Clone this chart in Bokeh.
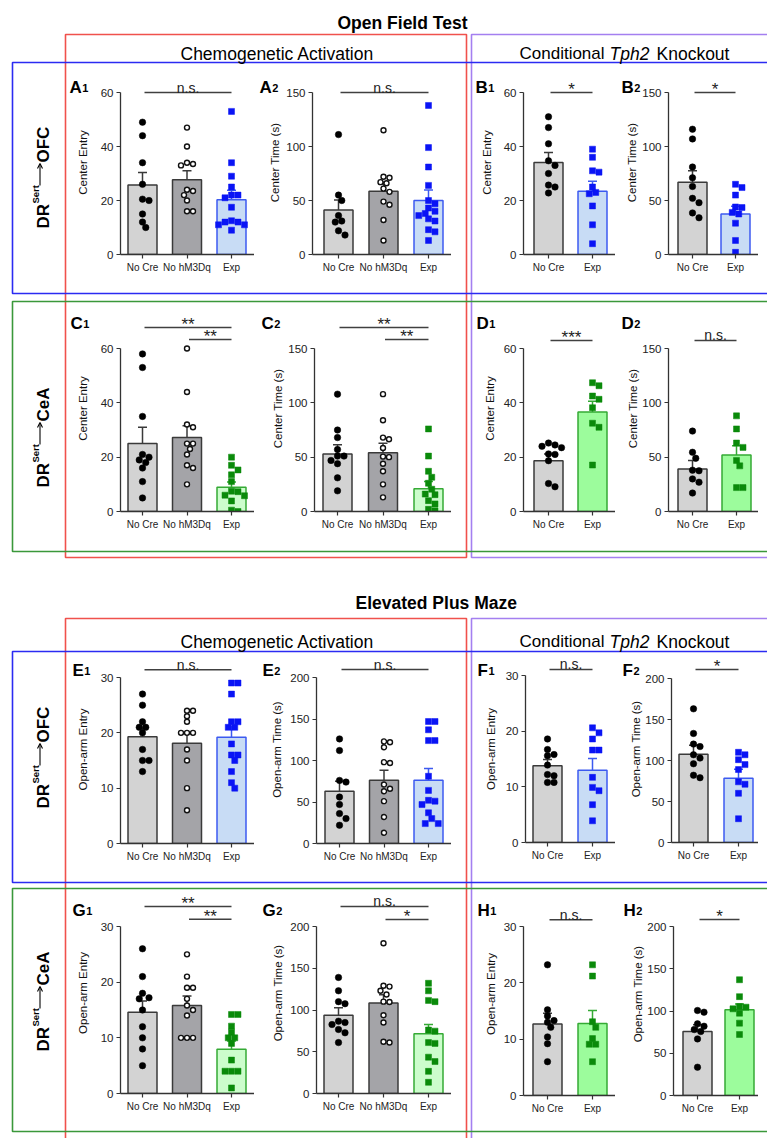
import math
from bokeh.plotting import figure
from bokeh.models import Range1d, FixedTicker, GridBox, Arrow, OpenHead
from bokeh.embed import file_html
from bokeh.resources import INLINE
from bokeh.core.properties import value

FONT = "Liberation Sans"

# ------------------------------------------------------------------ data
GROUPS_3 = ["No Cre", "No hM3Dq", "Exp"]
GROUPS_2 = ["No Cre", "Exp"]

Y_OF_ENTRY = "Center Entry"
Y_OF_TIME = "Center Time (s)"
Y_EPM_ENTRY = "Open-arm Entry"
Y_EPM_TIME = "Open-arm Time (s)"

# Open Field Test
A1_nocre = [49, 44, 34, 26, 20.5, 20, 15, 12, 10]
A1_hm3dq = [47, 40, 34, 33.5, 33, 24, 23.5, 22, 20, 16, 16]
A1_exp = [53, 34, 29, 25, 22, 22, 21, 17.5, 12.5, 12, 12, 11, 11, 9]
A1_mean = [25.7, 27.7, 20.3]
A1_sem = [4.7, 3.3, 3.5]

A2_nocre = [111, 55, 50, 36, 31, 30, 22, 18]
A2_hm3dq = [115, 72, 71, 67, 66, 61, 58, 49, 46, 32, 13]
A2_exp = [138, 99, 81, 64, 50, 47, 43, 40, 38, 36, 33, 31, 23, 21, 13]
A2_mean = [41.3, 58.5, 49.9]
A2_sem = [9.2, 8.3, 9.8]

B1_nocre = [51, 47, 41, 34.7, 33, 30, 25.7, 25, 22.8]
B1_exp = [39, 36, 31, 30.5, 25, 23, 22.5, 18, 11, 4]
B1_mean = [34.1, 23.4]
B1_sem = [3.7, 3.7]

B2_nocre = [116, 107, 81, 71, 63, 52, 48, 38.5, 34]
B2_exp = [65, 62, 55, 44, 43.5, 39, 37.5, 29, 13, 2]
B2_mean = [66.8, 37.6]
B2_sem = [10.8, 7.0]

C1_nocre = [58, 53, 35, 21, 20, 19, 18, 16, 11, 5]
C1_hm3dq = [60, 44, 32, 31, 25, 25, 23, 21, 17, 16, 10]
C1_exp = [20, 17, 15.3, 13.5, 11, 7.5, 7.3, 6, 5.8, 3.9, 0.5, 0]
C1_mean = [25.0, 27.2, 8.9]
C1_sem = [6.0, 4.4, 2.0]

C2_nocre = [108, 75, 68, 57, 51, 51, 47, 44, 31, 19]
C2_hm3dq = [108, 84, 68, 66.5, 58.5, 50.5, 50, 44, 37, 25, 13]
C2_exp = [76, 51, 37, 31.5, 26, 20.5, 16, 15.5, 10, 7, 2, 0.6]
C2_mean = [53.0, 54.0, 21.0]
C2_sem = [8.5, 8.8, 6.5]

D1_nocre = [25.2, 24.5, 24, 23.5, 21.2, 21, 18.7, 10.3, 9.1]
D1_exp = [47.4, 46.3, 42.5, 41.3, 38.2, 32.5, 31, 17.1]
D1_mean = [18.7, 36.6]
D1_sem = [2.5, 4.0]

D2_nocre = [74, 54.5, 49, 38, 37.5, 30, 27, 17]
D2_exp = [88, 76, 63, 59, 47, 42, 22, 22]
D2_mean = [39.0, 52.0]
D2_sem = [8.0, 8.5]

# Elevated Plus Maze
E1_nocre = [27, 25, 22, 21, 21, 20, 17, 15, 15, 13]
E1_hm3dq = [24, 24, 23, 22, 20, 20, 20, 17, 15, 10, 6]
E1_exp = [29, 29, 27, 22, 22, 21, 21, 18, 16, 16, 15, 13, 11, 10]
E1_mean = [19.3, 18.1, 19.2]
E1_sem = [1.5, 1.8, 1.9]

E2_nocre = [126, 112, 76, 74, 56, 47, 36, 30, 22]
E2_hm3dq = [122, 123, 116, 98, 97, 71, 66, 63, 51, 32, 13]
E2_exp = [147, 147, 137, 124, 124, 81, 64, 52, 51, 47, 37, 30, 24, 24]
E2_mean = [62.9, 76.3, 76.3]
E2_sem = [12.0, 12.0, 14.0]

F1_nocre = [18.6, 16.7, 15.8, 15.6, 13.9, 12.2, 12, 10.8, 10.8]
F1_exp = [20.6, 19.7, 18.6, 16.6, 16.6, 11.7, 9.9, 9.3, 6.8, 3.9]
F1_mean = [13.8, 13.0]
F1_sem = [1.1, 2.1]

F2_nocre = [163, 133, 120, 117, 107, 103, 96, 82, 79]
F2_exp = [110, 107, 101, 95, 89, 74, 71, 60, 29]
F2_mean = [107.5, 78.3]
F2_sem = [11.0, 11.0]

G1_nocre = [26, 21, 18, 17.2, 17, 15, 12, 10, 8, 5]
G1_hm3dq = [25, 21, 19, 19, 17, 15.8, 15, 14, 10, 10, 10]
G1_exp = [14.2, 14.2, 12.1, 11, 10, 10, 9, 6, 4, 4, 4, 1]
G1_mean = [14.6, 15.8, 7.95]
G1_sem = [2.0, 1.7, 1.5]

G2_nocre = [139, 123, 110, 107.5, 86.6, 85, 82.6, 76.7, 72.7, 61]
G2_hm3dq = [180, 128, 129, 123, 118.6, 109.5, 110, 93.7, 85, 62, 61]
G2_exp = [132, 123, 111.5, 110, 76, 74.7, 60, 61, 43.5, 38.3, 26.5, 13.4]
G2_mean = [93.7, 108.3, 71.5]
G2_sem = [9.0, 10.0, 11.0]

H1_nocre = [23.2, 15.2, 14.1, 13.3, 13, 12.1, 10.4, 9.2, 6]
H1_exp = [23.2, 21.2, 13.1, 12.1, 10.1, 9.1, 9.1, 6]
H1_mean = [12.7, 12.8]
H1_sem = [1.9, 2.3]

H2_nocre = [100.6, 98.6, 84.8, 82, 78, 75.7, 67, 33.5]
H2_exp = [137, 117, 105.3, 104.5, 102.6, 97.4, 85.6, 72.2]
H2_mean = [75.7, 101.4]
H2_sem = [8.0, 7.0]

# significance annotations: (group i, group j, height in data units, label)
A1_sig = [(0, 2, 60, "n.s.")]
A2_sig = [(0, 2, 150, "n.s.")]
B1_sig = [(0, 1, 60, "*")]
B2_sig = [(0, 1, 150, "*")]
C1_sig = [(0, 2, 67.7, "**"), (1, 2, 63.3, "**")]
C2_sig = [(0, 2, 169.3, "**"), (1, 2, 158.3, "**")]
D1_sig = [(0, 1, 62.9, "***")]
D2_sig = [(0, 1, 157.4, "n.s.")]
E1_sig = [(0, 2, 31.4, "n.s.")]
E2_sig = [(0, 2, 209.6, "n.s.")]
F1_sig = [(0, 1, 31.1, "n.s.")]
F2_sig = [(0, 1, 211, "*")]
G1_sig = [(0, 2, 33.6, "**"), (1, 2, 31.3, "**")]
G2_sig = [(0, 2, 224, "n.s."), (1, 2, 208.4, "*")]
H1_sig = [(0, 1, 31.2, "n.s.")]
H2_sig = [(0, 1, 208.3, "*")]

PANELS = [
    ("A1", GROUPS_3, [A1_nocre, A1_hm3dq, A1_exp], A1_mean, A1_sem, "blue", Y_OF_ENTRY, 60, 20, A1_sig),
    ("A2", GROUPS_3, [A2_nocre, A2_hm3dq, A2_exp], A2_mean, A2_sem, "blue", Y_OF_TIME, 150, 50, A2_sig),
    ("B1", GROUPS_2, [B1_nocre, B1_exp], B1_mean, B1_sem, "blue", Y_OF_ENTRY, 60, 20, B1_sig),
    ("B2", GROUPS_2, [B2_nocre, B2_exp], B2_mean, B2_sem, "blue", Y_OF_TIME, 150, 50, B2_sig),
    ("C1", GROUPS_3, [C1_nocre, C1_hm3dq, C1_exp], C1_mean, C1_sem, "lgreen", Y_OF_ENTRY, 60, 20, C1_sig),
    ("C2", GROUPS_3, [C2_nocre, C2_hm3dq, C2_exp], C2_mean, C2_sem, "lgreen", Y_OF_TIME, 150, 50, C2_sig),
    ("D1", GROUPS_2, [D1_nocre, D1_exp], D1_mean, D1_sem, "green", Y_OF_ENTRY, 60, 20, D1_sig),
    ("D2", GROUPS_2, [D2_nocre, D2_exp], D2_mean, D2_sem, "green", Y_OF_TIME, 150, 50, D2_sig),
    ("E1", GROUPS_3, [E1_nocre, E1_hm3dq, E1_exp], E1_mean, E1_sem, "blue", Y_EPM_ENTRY, 30, 10, E1_sig),
    ("E2", GROUPS_3, [E2_nocre, E2_hm3dq, E2_exp], E2_mean, E2_sem, "blue", Y_EPM_TIME, 200, 50, E2_sig),
    ("F1", GROUPS_2, [F1_nocre, F1_exp], F1_mean, F1_sem, "blue", Y_EPM_ENTRY, 30, 10, F1_sig),
    ("F2", GROUPS_2, [F2_nocre, F2_exp], F2_mean, F2_sem, "blue", Y_EPM_TIME, 200, 50, F2_sig),
    ("G1", GROUPS_3, [G1_nocre, G1_hm3dq, G1_exp], G1_mean, G1_sem, "lgreen", Y_EPM_ENTRY, 30, 10, G1_sig),
    ("G2", GROUPS_3, [G2_nocre, G2_hm3dq, G2_exp], G2_mean, G2_sem, "lgreen", Y_EPM_TIME, 200, 50, G2_sig),
    ("H1", GROUPS_2, [H1_nocre, H1_exp], H1_mean, H1_sem, "green", Y_EPM_ENTRY, 30, 10, H1_sig),
    ("H2", GROUPS_2, [H2_nocre, H2_exp], H2_mean, H2_sem, "green", Y_EPM_TIME, 200, 50, H2_sig),
]

# ------------------------------------------------------------ layout (page px)
# axis x, first category centre, category spacing, y of 0, y of top tick, frame top
GEOM = {
    "A1": (120, 142, 44.5, 254, 92, 70),
    "A2": (312, 338, 45.0, 254, 92, 70),
    "B1": (523, 548, 44.0, 254, 92, 70),
    "B2": (668, 692, 43.0, 254, 92, 70),
    "C1": (120, 142, 44.5, 511, 348, 305),
    "C2": (314, 337, 45.5, 511, 348, 305),
    "D1": (523, 548, 44.0, 511, 348, 305),
    "D2": (668, 692, 44.0, 511, 348, 305),
    "E1": (120, 142, 44.5, 843, 677, 655),
    "E2": (316, 339, 44.5, 843, 677, 655),
    "F1": (525, 547, 45.0, 842, 675, 655),
    "F2": (671, 693, 45.0, 842, 678, 655),
    "G1": (120, 142, 44.5, 1093, 926, 892),
    "G2": (316, 338, 45.0, 1093, 926, 892),
    "H1": (523, 547, 45.0, 1095, 926, 892),
    "H2": (673, 697, 42.0, 1095, 926, 892),
}
YLAB_CX = {"A1": 83, "A2": 275, "B1": 487, "B2": 632, "C1": 83, "C2": 278, "D1": 490, "D2": 635,
           "E1": 83, "E2": 277, "F1": 491, "F2": 636, "G1": 83, "G2": 278, "H1": 491, "H2": 640}

OUT = "#3a3a3a"
GROUP_FILL = {"No Cre": "#d3d3d3", "No hM3Dq": "#a4a4a8"}
EXP_STYLE = {
    "blue": ("#c8dcf5", "#3c5af0", "#0a14f5"),
    "lgreen": ("#ccfdcc", "#35aa35", "#0a8a0a"),
    "green": ("#9cfc9c", "#35aa35", "#0a8a0a"),
}


def swarm(vals, ppu, sp, d):
    placed = []
    offs = [0.0] * len(vals)
    order = sorted(range(len(vals)), key=lambda i: -vals[i])
    cand = [0.0]
    for k in range(1, 10):
        cand += [k * d / 2.0, -k * d / 2.0]
    for i in order:
        y = vals[i] * ppu
        chosen = cand[-1]
        for c in cand:
            if all((c - px) ** 2 + (y - py) ** 2 >= (d * 0.92) ** 2 for px, py in placed):
                chosen = c
                break
        placed.append((chosen, y))
        offs[i] = chosen / sp
    return offs


LB = 56
BB = 30


def make_panel(name, groups, dots, means, sems, exp, ylabel, ymax, ystep, sigs):
    axis_x, c0, sp, y0, yt, ft = GEOM[name]
    n = len(groups)
    c_last = c0 + (n - 1) * sp
    right = min(c_last + 23, 758)
    frame_w = int(round(right - axis_x))
    frame_h = int(round(y0 - ft))
    ppu = (y0 - yt) / ymax
    x_start = -(c0 - axis_x) / sp
    x_end = x_start + frame_w / sp
    y_end = frame_h / ppu

    p = figure(width=LB + frame_w, height=frame_h + BB,
               x_range=Range1d(x_start, x_end), y_range=Range1d(0, y_end),
               min_border_left=LB, min_border_right=0, min_border_top=0, min_border_bottom=BB,
               toolbar_location=None, output_backend="svg", title_location=None)
    p.margin = (int(round(ft)), 0, 0, int(round(axis_x - LB)))
    p.background_fill_color = None
    p.border_fill_color = None
    p.outline_line_color = None
    p.grid.visible = False

    fill_e, line_e, mark_e = EXP_STYLE[exp]
    xs = list(range(n))
    fills = [GROUP_FILL.get(g, fill_e) for g in groups]
    lines = [OUT if g != "Exp" else line_e for g in groups]
    bw = 29.0 / sp
    p.vbar(x=xs, top=means, bottom=0, width=bw, fill_color=fills, line_color=lines, line_width=1.5)

    cap = 4.5 / sp
    tops = [m + s for m, s in zip(means, sems)]
    p.segment(x0=xs, y0=means, x1=xs, y1=tops, line_color=lines, line_width=1.5)
    p.segment(x0=[x - cap for x in xs], y0=tops, x1=[x + cap for x in xs], y1=tops,
              line_color=lines, line_width=1.5)

    for gi, (g, vals) in enumerate(zip(groups, dots)):
        if g == "No Cre":
            offs = swarm(vals, ppu, sp, 6.5)
            p.scatter(x=[gi + o for o in offs], y=vals, marker="circle", size=6.5,
                      fill_color="#000000", line_color="#000000", line_width=0.5)
        elif g == "No hM3Dq":
            offs = swarm(vals, ppu, sp, 6.0)
            p.scatter(x=[gi + o for o in offs], y=vals, marker="circle", size=5,
                      fill_color="#ffffff", line_color="#111111", line_width=1.4)
        else:
            offs = swarm(vals, ppu, sp, 6.5)
            p.scatter(x=[gi + o for o in offs], y=vals, marker="square", size=6,
                      fill_color=mark_e, line_color=mark_e, line_width=0.5)

    for (i, j, h, lab) in sigs:
        p.segment(x0=[i + 2.0 / sp], y0=[h], x1=[j], y1=[h], line_color="#404040", line_width=1.5)
        xc = (i + 2.0 / sp + j) / 2.0
        if lab.startswith("n"):
            p.text(x=[xc], y=[h + 5.0 / ppu], text=[lab], text_align="center",
                   text_baseline="alphabetic", text_font=value(FONT), text_font_size="14px",
                   text_color="#222222")
        else:
            p.text(x=[xc], y=[h + 3.0 / ppu], text=[lab], text_align="center",
                   text_baseline="middle", text_font=value(FONT), text_font_size="17px",
                   text_color="#222222")

    yticks = list(range(0, ymax + 1, ystep))
    ya = p.yaxis[0]
    ya.ticker = FixedTicker(ticks=yticks)
    ya.bounds = (0, ymax)
    ya.minor_tick_line_color = None
    ya.major_tick_out = 4
    ya.major_tick_in = 0
    ya.major_label_standoff = 3
    ya.axis_line_color = "#333333"
    ya.axis_line_width = 1.3
    ya.major_tick_line_color = "#333333"
    ya.major_tick_line_width = 1.2
    ya.major_label_text_font = FONT
    ya.major_label_text_font_size = "11.5px"
    ya.major_label_text_color = "#222222"
    ya.axis_label = ylabel
    ya.axis_label_text_font = FONT
    ya.axis_label_text_font_size = "11.5px"
    ya.axis_label_text_font_style = "normal"
    ya.axis_label_text_color = "#111111"
    tickw = len(str(ymax)) * 0.556 * 11.5
    standoff = (axis_x - 7 - tickw) - (YLAB_CX[name] + 6.5)
    ya.axis_label_standoff = max(0, int(round(standoff)) - 2)

    xa = p.xaxis[0]
    xa.ticker = FixedTicker(ticks=xs)
    xa.major_label_overrides = {i: g for i, g in enumerate(groups)}
    xa.minor_tick_line_color = None
    xa.major_tick_out = 4
    xa.major_tick_in = 0
    xa.major_label_standoff = 3
    xa.axis_line_color = "#333333"
    xa.axis_line_width = 1.3
    xa.major_tick_line_color = "#333333"
    xa.major_tick_line_width = 1.2
    xa.major_label_text_font = FONT
    xa.major_label_text_font_size = "10px"
    xa.major_label_text_color = "#222222"
    return p


# ------------------------------------------------------------ background
W, H = 767, 1138
bg = figure(width=W, height=H, x_range=Range1d(0, W), y_range=Range1d(0, H),
            toolbar_location=None, output_backend="svg", min_border=0,
            x_axis_type=None, y_axis_type=None, title_location=None)
bg.grid.visible = False
bg.outline_line_color = None
bg.background_fill_color = None
bg.border_fill_color = None


def Y(v):
    return H - v


def txt(x, yimg, s, size, style="normal", align="left", angle=0.0):
    bg.text(x=[x], y=[Y(yimg)], text=[s], text_font=value(FONT), text_font_size=f"{size}px",
            text_font_style=style, text_align=align, text_baseline="alphabetic",
            angle=angle, text_color="#000000")


BOX_RED, BOX_PURPLE, BOX_BLUE, BOX_GREEN = "#f0514c", "#a47ff0", "#2b2bf2", "#3a983a"
BOXES = [
    (65, 34, 466, 557, BOX_RED), (471, 34, 800, 557, BOX_PURPLE),
    (65, 618, 466, 1170, BOX_RED), (471, 618, 800, 1170, BOX_PURPLE),
    (12, 62, 800, 293, BOX_BLUE), (12, 301, 800, 551, BOX_GREEN),
    (12, 651, 800, 882, BOX_BLUE), (12, 888, 800, 1131, BOX_GREEN),
]
bg.quad(left=[b[0] for b in BOXES], right=[b[2] for b in BOXES],
        top=[Y(b[1]) for b in BOXES], bottom=[Y(b[3]) for b in BOXES],
        fill_color=None, line_color=[b[4] for b in BOXES], line_width=1.6)

txt(337, 22, "Open Field Test", 17.5, "bold")
txt(355, 602, "Elevated Plus Maze", 17.5, "bold")
for base in (53, 641):
    txt(180, base, "Chemogenetic Activation", 17.5)
    txt(519, base, "Conditional", 17)
    txt(609, base, "Tph2", 17.5, "italic")
    txt(656, base, "Knockout", 17.5)

ROWS = [(178, "OFC"), (437, "CeA"), (758, "OFC"), (1001, "CeA")]
for yc, target in ROWS:
    start = yc + 50
    txt(43, start, "DR", 17, "bold", angle=math.pi / 2)
    txt(34.5, start - 25, "Sert", 9.5, "bold", angle=math.pi / 2)
    bg.add_layout(Arrow(x_start=39.5, y_start=Y(start - 43), x_end=39.5, y_end=Y(start - 65),
                        line_width=1.1, line_color="#000000",
                        end=OpenHead(size=5, line_width=1.1, line_color="#000000")))
    txt(43, start - 66, target, 17, "bold", angle=math.pi / 2)

LETTERS = [
    ("A", "1", 69, 87), ("A", "2", 259, 87), ("B", "1", 475, 87), ("B", "2", 621, 87),
    ("C", "1", 70, 323), ("C", "2", 261, 323), ("D", "1", 476, 323), ("D", "2", 621, 323),
    ("E", "1", 72, 670), ("E", "2", 262, 670), ("F", "1", 477, 670), ("F", "2", 622, 670),
    ("G", "1", 72, 910), ("G", "2", 262, 910), ("H", "1", 477, 910), ("H", "2", 623, 910),
]
LW = {"A": 0.722, "B": 0.722, "C": 0.722, "D": 0.722, "E": 0.667, "F": 0.611, "G": 0.778, "H": 0.722}
for L, dgt, x, b in LETTERS:
    txt(x, b, L, 17, "bold")
    txt(x + LW[L] * 17 + 0.5, b, dgt, 11, "bold")

figs = [make_panel(*spec) for spec in PANELS]

root = GridBox(children=[(bg, 0, 0, 3, 3)] + [(f, 1, 1) for f in figs],
               rows=["0px", f"{H}px", "0px"], cols=["0px", f"{W}px", "0px"])

open("out.html", "w").write(file_html(root, INLINE, title="Open Field Test / Elevated Plus Maze"))
